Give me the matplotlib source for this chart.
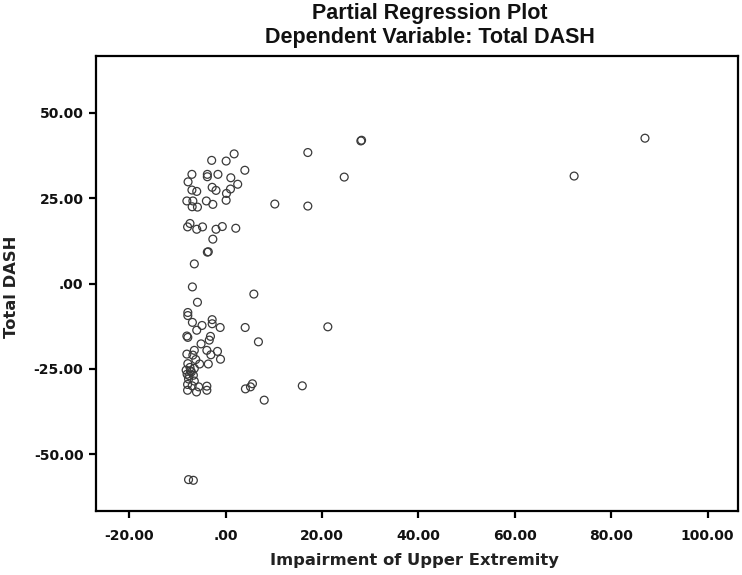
import matplotlib
matplotlib.use("Agg")
import matplotlib.pyplot as plt
from matplotlib.ticker import FixedLocator, FixedFormatter

# ---- data ----
impairment = [
    87.0, 72.3,
    28.05, 28.2, 17.05, 24.6, 10.2, 17.05, 21.2, 15.9, 8.0,
    1.76, 0.1, -2.9, 3.98, -7.0, -3.8, -3.8, -1.6, 1.07, -7.8, 2.5, -2.8,
    -7.0, -6.0, -2.0, 1.0, 0.17, 0.1, -8.05, -6.8, -4.0, -2.66, -6.95, -5.85,
    -7.4, -7.9, -6.0, -4.8, -0.7, -2.0, 2.1, -2.66, -3.8, -3.6, -6.5, -6.9,
    5.85, -5.85, -7.85, -7.85, -6.9, -2.8, -2.8, -4.9, -1.14, 4.05, -6.0,
    -8.05, -7.85, -3.15, -3.4, 6.8, -5.1, -6.5, -3.9, -1.7, -8.05, -6.8,
    -3.07, -1.07, -6.2, -3.6, -5.4, -7.85, -7.4, -6.5, -8.2, -8.0, -6.7,
    -7.7, -6.5, -7.9, -6.95, -5.6, -3.9, -3.9, -7.9, 5.56, 5.15, 4.1,
    -7.3, -7.6, -7.1, -6.05, -7.7, -6.7,
]
total_dash = [
    42.6, 31.5,
    41.8, 42.0, 38.4, 31.2, 23.3, 22.7, -12.7, -30.0, -34.2,
    38.0, 35.9, 36.1, 33.2, 32.0, 32.0, 31.3, 32.0, 31.0, 29.8, 29.1, 28.2,
    27.4, 27.0, 27.3, 27.7, 26.4, 24.4, 24.2, 24.2, 24.2, 23.2, 22.5, 22.4,
    17.6, 16.6, 15.9, 16.6, 16.7, 15.9, 16.2, 13.0, 9.2, 9.3, 5.75, -1.0,
    -3.1, -5.5, -8.5, -9.4, -11.4, -10.6, -11.8, -12.3, -12.9, -12.9, -13.7,
    -15.4, -15.8, -15.5, -16.6, -17.1, -17.7, -19.6, -19.6, -19.9, -20.7, -21.0,
    -20.9, -22.2, -22.3, -23.6, -23.6, -23.5, -24.6, -24.9, -25.4, -26.6, -26.9,
    -28.0, -28.6, -29.6, -30.0, -30.3, -30.1, -31.3, -31.3, -29.4, -30.3, -30.9,
    -25.6, -27.0, -25.9, -31.8, -57.5, -57.7,
]

x_ticks = [-20, 0, 20, 40, 60, 80, 100]
x_tick_labels = ["-20.00", ".00", "20.00", "40.00", "60.00", "80.00", "100.00"]
y_ticks = [-50, -25, 0, 25, 50]
y_tick_labels = ["-50.00", "-25.00", ".00", "25.00", "50.00"]

title_line1 = "Partial Regression Plot"
title_line2 = "Dependent Variable: Total DASH"
x_label = "Impairment of Upper Extremity"
y_label = "Total DASH"

# ---- figure ----
W, H = 742, 575
fig = plt.figure(figsize=(W / 100, H / 100), dpi=100)
ax = fig.add_axes([96 / W, (H - 511) / H, (738 - 96) / W, (511 - 56) / H])

ax.scatter(impairment, total_dash, s=32, facecolors="none",
           edgecolors="#3a3a3a", linewidths=0.9, zorder=3)

ax.set_xlim(-26.9, 106.3)
ax.set_ylim(-66.7, 66.7)

ax.xaxis.set_major_locator(FixedLocator(x_ticks))
ax.xaxis.set_major_formatter(FixedFormatter(x_tick_labels))
ax.yaxis.set_major_locator(FixedLocator(y_ticks))
ax.yaxis.set_major_formatter(FixedFormatter(y_tick_labels))

for sp in ax.spines.values():
    sp.set_linewidth(1.6)
    sp.set_color("black")

ax.tick_params(axis="both", which="major", direction="out", length=5,
               width=1.6, color="black", top=False, right=False)
ax.tick_params(axis="x", pad=8)
ax.tick_params(axis="y", pad=4)
for lab in ax.get_xticklabels() + ax.get_yticklabels():
    lab.set_fontfamily("DejaVu Sans")
    lab.set_fontweight("bold")
    lab.set_fontsize(10)
    lab.set_color("#111111")

fig.text(430 / W, 1 - 13 / H, title_line1, ha="center", va="center",
         fontsize=15.5, fontweight="bold", family="Liberation Sans", color="#111111")
fig.text(430 / W, 1 - 37 / H, title_line2, ha="center", va="center",
         fontsize=15.5, fontweight="bold", family="Liberation Sans", color="#111111")

fig.text(414 / W, 1 - 560 / H, x_label, ha="center", va="center",
         fontsize=11.8, fontweight="bold", family="DejaVu Sans", color="#222222")
fig.text(12 / W, 1 - 287 / H, y_label, ha="center", va="center", rotation=90,
         fontsize=11.8, fontweight="bold", family="DejaVu Sans", color="#222222")

fig.savefig("out.png", dpi=100)
